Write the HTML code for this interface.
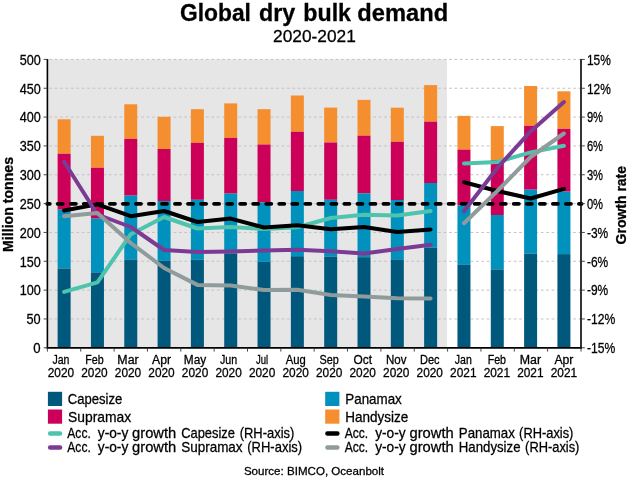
<!DOCTYPE html>
<html><head><meta charset="utf-8"><title>Global dry bulk demand</title>
<style>html,body{margin:0;padding:0;background:#fff}body{width:630px;height:478px;overflow:hidden}svg{display:block;will-change:transform}text{font-family:"Liberation Sans",sans-serif;fill:#000;stroke:#000;stroke-width:0.28px}</style></head><body>
<svg width="630" height="478" viewBox="0 0 630 478">
<rect width="630" height="478" fill="#fff"/>
<rect x="47.4" y="59.4" width="399.50" height="288.40" fill="#e6e6e6"/>
<line x1="49.4" x2="581.0" y1="59.40" y2="59.40" stroke="#c2c2c2" stroke-width="1" stroke-dasharray="2.7 2.7"/>
<line x1="49.4" x2="581.0" y1="88.24" y2="88.24" stroke="#c2c2c2" stroke-width="1" stroke-dasharray="2.7 2.7"/>
<line x1="49.4" x2="581.0" y1="117.08" y2="117.08" stroke="#c2c2c2" stroke-width="1" stroke-dasharray="2.7 2.7"/>
<line x1="49.4" x2="581.0" y1="145.92" y2="145.92" stroke="#c2c2c2" stroke-width="1" stroke-dasharray="2.7 2.7"/>
<line x1="49.4" x2="581.0" y1="174.76" y2="174.76" stroke="#c2c2c2" stroke-width="1" stroke-dasharray="2.7 2.7"/>
<line x1="49.4" x2="581.0" y1="203.60" y2="203.60" stroke="#c2c2c2" stroke-width="1" stroke-dasharray="2.7 2.7"/>
<line x1="49.4" x2="581.0" y1="232.44" y2="232.44" stroke="#c2c2c2" stroke-width="1" stroke-dasharray="2.7 2.7"/>
<line x1="49.4" x2="581.0" y1="261.28" y2="261.28" stroke="#c2c2c2" stroke-width="1" stroke-dasharray="2.7 2.7"/>
<line x1="49.4" x2="581.0" y1="290.12" y2="290.12" stroke="#c2c2c2" stroke-width="1" stroke-dasharray="2.7 2.7"/>
<line x1="49.4" x2="581.0" y1="318.96" y2="318.96" stroke="#c2c2c2" stroke-width="1" stroke-dasharray="2.7 2.7"/>
<rect x="57.62" y="119.3" width="13.0" height="34.50" fill="#f58e2e"/>
<rect x="57.62" y="153.8" width="13.0" height="55.90" fill="#cc0058"/>
<rect x="57.62" y="209.7" width="13.0" height="58.90" fill="#0091bd"/>
<rect x="57.62" y="268.6" width="13.0" height="79.20" fill="#00587c"/>
<rect x="90.94" y="135.8" width="13.0" height="32.00" fill="#f58e2e"/>
<rect x="90.94" y="167.8" width="13.0" height="50.80" fill="#cc0058"/>
<rect x="90.94" y="218.6" width="13.0" height="53.80" fill="#0091bd"/>
<rect x="90.94" y="272.4" width="13.0" height="75.40" fill="#00587c"/>
<rect x="124.26" y="104.3" width="13.0" height="34.60" fill="#f58e2e"/>
<rect x="124.26" y="138.9" width="13.0" height="56.70" fill="#cc0058"/>
<rect x="124.26" y="195.6" width="13.0" height="63.90" fill="#0091bd"/>
<rect x="124.26" y="259.5" width="13.0" height="88.30" fill="#00587c"/>
<rect x="157.58" y="116.8" width="13.0" height="32.20" fill="#f58e2e"/>
<rect x="157.58" y="149.0" width="13.0" height="52.00" fill="#cc0058"/>
<rect x="157.58" y="201.0" width="13.0" height="59.80" fill="#0091bd"/>
<rect x="157.58" y="260.8" width="13.0" height="87.00" fill="#00587c"/>
<rect x="190.90" y="109.2" width="13.0" height="33.60" fill="#f58e2e"/>
<rect x="190.90" y="142.8" width="13.0" height="57.00" fill="#cc0058"/>
<rect x="190.90" y="199.8" width="13.0" height="59.90" fill="#0091bd"/>
<rect x="190.90" y="259.7" width="13.0" height="88.10" fill="#00587c"/>
<rect x="224.22" y="103.4" width="13.0" height="34.50" fill="#f58e2e"/>
<rect x="224.22" y="137.9" width="13.0" height="55.70" fill="#cc0058"/>
<rect x="224.22" y="193.6" width="13.0" height="60.00" fill="#0091bd"/>
<rect x="224.22" y="253.6" width="13.0" height="94.20" fill="#00587c"/>
<rect x="257.54" y="109.2" width="13.0" height="35.30" fill="#f58e2e"/>
<rect x="257.54" y="144.5" width="13.0" height="57.80" fill="#cc0058"/>
<rect x="257.54" y="202.3" width="13.0" height="59.50" fill="#0091bd"/>
<rect x="257.54" y="261.8" width="13.0" height="86.00" fill="#00587c"/>
<rect x="290.86" y="95.5" width="13.0" height="36.30" fill="#f58e2e"/>
<rect x="290.86" y="131.8" width="13.0" height="59.20" fill="#cc0058"/>
<rect x="290.86" y="191.0" width="13.0" height="65.20" fill="#0091bd"/>
<rect x="290.86" y="256.2" width="13.0" height="91.60" fill="#00587c"/>
<rect x="324.18" y="107.6" width="13.0" height="34.90" fill="#f58e2e"/>
<rect x="324.18" y="142.5" width="13.0" height="57.30" fill="#cc0058"/>
<rect x="324.18" y="199.8" width="13.0" height="56.90" fill="#0091bd"/>
<rect x="324.18" y="256.7" width="13.0" height="91.10" fill="#00587c"/>
<rect x="357.50" y="99.9" width="13.0" height="35.80" fill="#f58e2e"/>
<rect x="357.50" y="135.7" width="13.0" height="57.70" fill="#cc0058"/>
<rect x="357.50" y="193.4" width="13.0" height="63.80" fill="#0091bd"/>
<rect x="357.50" y="257.2" width="13.0" height="90.60" fill="#00587c"/>
<rect x="390.82" y="107.7" width="13.0" height="34.10" fill="#f58e2e"/>
<rect x="390.82" y="141.8" width="13.0" height="58.20" fill="#cc0058"/>
<rect x="390.82" y="200.0" width="13.0" height="59.40" fill="#0091bd"/>
<rect x="390.82" y="259.4" width="13.0" height="88.40" fill="#00587c"/>
<rect x="424.14" y="85.1" width="13.0" height="36.60" fill="#f58e2e"/>
<rect x="424.14" y="121.7" width="13.0" height="61.30" fill="#cc0058"/>
<rect x="424.14" y="183.0" width="13.0" height="64.70" fill="#0091bd"/>
<rect x="424.14" y="247.7" width="13.0" height="100.10" fill="#00587c"/>
<rect x="457.46" y="115.9" width="13.0" height="33.70" fill="#f58e2e"/>
<rect x="457.46" y="149.6" width="13.0" height="55.80" fill="#cc0058"/>
<rect x="457.46" y="205.4" width="13.0" height="59.50" fill="#0091bd"/>
<rect x="457.46" y="264.9" width="13.0" height="82.90" fill="#00587c"/>
<rect x="490.78" y="126.1" width="13.0" height="33.90" fill="#f58e2e"/>
<rect x="490.78" y="160.0" width="13.0" height="55.00" fill="#cc0058"/>
<rect x="490.78" y="215.0" width="13.0" height="54.40" fill="#0091bd"/>
<rect x="490.78" y="269.4" width="13.0" height="78.40" fill="#00587c"/>
<rect x="524.10" y="86.0" width="13.0" height="39.80" fill="#f58e2e"/>
<rect x="524.10" y="125.8" width="13.0" height="63.90" fill="#cc0058"/>
<rect x="524.10" y="189.7" width="13.0" height="63.90" fill="#0091bd"/>
<rect x="524.10" y="253.6" width="13.0" height="94.20" fill="#00587c"/>
<rect x="557.42" y="91.3" width="13.0" height="37.60" fill="#f58e2e"/>
<rect x="557.42" y="128.9" width="13.0" height="62.80" fill="#cc0058"/>
<rect x="557.42" y="191.7" width="13.0" height="62.40" fill="#0091bd"/>
<rect x="557.42" y="254.1" width="13.0" height="93.70" fill="#00587c"/>
<line x1="47.2" x2="581.6" y1="203.8" y2="203.8" stroke="#000" stroke-width="3.8" stroke-linecap="round" stroke-dasharray="5.1 7.93" stroke-dashoffset="2.52"/>
<polyline points="64.1,291.9 97.4,282.3 130.8,234.2 164.1,217.0 197.4,228.5 230.7,227.1 264.0,229.0 297.4,227.3 330.7,218 364.0,214.8 397.3,215.5 430.6,211" fill="none" stroke="#4ec3ad" stroke-width="4.0" stroke-linecap="round" stroke-linejoin="round"/>
<polyline points="464.0,163.4 497.3,162 530.6,152.4 563.9,145.8" fill="none" stroke="#4ec3ad" stroke-width="4.0" stroke-linecap="round" stroke-linejoin="round"/>
<polyline points="64.1,210.5 97.4,204.4 130.8,216.2 164.1,211 197.4,222 230.7,218.6 264.0,227.5 297.4,225.2 330.7,229.2 364.0,227 397.3,232 430.6,229.5" fill="none" stroke="#000000" stroke-width="4.0" stroke-linecap="round" stroke-linejoin="round"/>
<polyline points="464.0,182.2 497.3,191 530.6,198.5 563.9,188.9" fill="none" stroke="#000000" stroke-width="4.0" stroke-linecap="round" stroke-linejoin="round"/>
<polyline points="64.1,161.8 97.4,214.5 130.8,227 164.1,250 197.4,251.9 230.7,251.4 264.0,250.6 297.4,249.8 330.7,251.3 364.0,253.6 397.3,249 430.6,244.7" fill="none" stroke="#7b3b94" stroke-width="4.0" stroke-linecap="round" stroke-linejoin="round"/>
<polyline points="464.0,211.2 497.3,168 530.6,131.4 563.9,102.0" fill="none" stroke="#7b3b94" stroke-width="4.0" stroke-linecap="round" stroke-linejoin="round"/>
<polyline points="64.1,216.2 97.4,213 130.8,243 164.1,268 197.4,284.9 230.7,285.4 264.0,290 297.4,289.7 330.7,295 364.0,296.6 397.3,298.2 430.6,298.4" fill="none" stroke="#8f9c9b" stroke-width="4.0" stroke-linecap="round" stroke-linejoin="round"/>
<polyline points="464.0,223.2 497.3,191 530.6,157 563.9,133.5" fill="none" stroke="#8f9c9b" stroke-width="4.0" stroke-linecap="round" stroke-linejoin="round"/>
<line x1="47.4" x2="47.4" y1="58.9" y2="348.6" stroke="#000" stroke-width="1.6"/>
<line x1="581.0" x2="581.0" y1="58.9" y2="348.6" stroke="#000" stroke-width="1.6"/>
<line x1="46.6" x2="581.8" y1="347.8" y2="347.8" stroke="#000" stroke-width="1.8"/>
<line x1="43.6" x2="47.4" y1="59.40" y2="59.40" stroke="#333" stroke-width="0.9"/>
<line x1="581.0" x2="584.8" y1="59.40" y2="59.40" stroke="#333" stroke-width="0.9"/>
<line x1="43.6" x2="47.4" y1="88.24" y2="88.24" stroke="#333" stroke-width="0.9"/>
<line x1="581.0" x2="584.8" y1="88.24" y2="88.24" stroke="#333" stroke-width="0.9"/>
<line x1="43.6" x2="47.4" y1="117.08" y2="117.08" stroke="#333" stroke-width="0.9"/>
<line x1="581.0" x2="584.8" y1="117.08" y2="117.08" stroke="#333" stroke-width="0.9"/>
<line x1="43.6" x2="47.4" y1="145.92" y2="145.92" stroke="#333" stroke-width="0.9"/>
<line x1="581.0" x2="584.8" y1="145.92" y2="145.92" stroke="#333" stroke-width="0.9"/>
<line x1="43.6" x2="47.4" y1="174.76" y2="174.76" stroke="#333" stroke-width="0.9"/>
<line x1="581.0" x2="584.8" y1="174.76" y2="174.76" stroke="#333" stroke-width="0.9"/>
<line x1="43.6" x2="47.4" y1="203.60" y2="203.60" stroke="#333" stroke-width="0.9"/>
<line x1="581.0" x2="584.8" y1="203.60" y2="203.60" stroke="#333" stroke-width="0.9"/>
<line x1="43.6" x2="47.4" y1="232.44" y2="232.44" stroke="#333" stroke-width="0.9"/>
<line x1="581.0" x2="584.8" y1="232.44" y2="232.44" stroke="#333" stroke-width="0.9"/>
<line x1="43.6" x2="47.4" y1="261.28" y2="261.28" stroke="#333" stroke-width="0.9"/>
<line x1="581.0" x2="584.8" y1="261.28" y2="261.28" stroke="#333" stroke-width="0.9"/>
<line x1="43.6" x2="47.4" y1="290.12" y2="290.12" stroke="#333" stroke-width="0.9"/>
<line x1="581.0" x2="584.8" y1="290.12" y2="290.12" stroke="#333" stroke-width="0.9"/>
<line x1="43.6" x2="47.4" y1="318.96" y2="318.96" stroke="#333" stroke-width="0.9"/>
<line x1="581.0" x2="584.8" y1="318.96" y2="318.96" stroke="#333" stroke-width="0.9"/>
<line x1="43.6" x2="47.4" y1="347.80" y2="347.80" stroke="#333" stroke-width="0.9"/>
<line x1="581.0" x2="584.8" y1="347.80" y2="347.80" stroke="#333" stroke-width="0.9"/>
<line x1="47.40" x2="47.40" y1="347.8" y2="351.6" stroke="#333" stroke-width="0.9"/>
<line x1="80.75" x2="80.75" y1="347.8" y2="351.6" stroke="#333" stroke-width="0.9"/>
<line x1="114.10" x2="114.10" y1="347.8" y2="351.6" stroke="#333" stroke-width="0.9"/>
<line x1="147.45" x2="147.45" y1="347.8" y2="351.6" stroke="#333" stroke-width="0.9"/>
<line x1="180.80" x2="180.80" y1="347.8" y2="351.6" stroke="#333" stroke-width="0.9"/>
<line x1="214.15" x2="214.15" y1="347.8" y2="351.6" stroke="#333" stroke-width="0.9"/>
<line x1="247.50" x2="247.50" y1="347.8" y2="351.6" stroke="#333" stroke-width="0.9"/>
<line x1="280.85" x2="280.85" y1="347.8" y2="351.6" stroke="#333" stroke-width="0.9"/>
<line x1="314.20" x2="314.20" y1="347.8" y2="351.6" stroke="#333" stroke-width="0.9"/>
<line x1="347.55" x2="347.55" y1="347.8" y2="351.6" stroke="#333" stroke-width="0.9"/>
<line x1="380.90" x2="380.90" y1="347.8" y2="351.6" stroke="#333" stroke-width="0.9"/>
<line x1="414.25" x2="414.25" y1="347.8" y2="351.6" stroke="#333" stroke-width="0.9"/>
<line x1="447.60" x2="447.60" y1="347.8" y2="351.6" stroke="#333" stroke-width="0.9"/>
<line x1="480.95" x2="480.95" y1="347.8" y2="351.6" stroke="#333" stroke-width="0.9"/>
<line x1="514.30" x2="514.30" y1="347.8" y2="351.6" stroke="#333" stroke-width="0.9"/>
<line x1="547.65" x2="547.65" y1="347.8" y2="351.6" stroke="#333" stroke-width="0.9"/>
<line x1="581.00" x2="581.00" y1="347.8" y2="351.6" stroke="#333" stroke-width="0.9"/>
<text x="19.65" y="64.70" font-size="14.5" textLength="21.05" lengthAdjust="spacingAndGlyphs">500</text>
<text x="19.65" y="93.54" font-size="14.5" textLength="21.05" lengthAdjust="spacingAndGlyphs">450</text>
<text x="19.65" y="122.38" font-size="14.5" textLength="21.05" lengthAdjust="spacingAndGlyphs">400</text>
<text x="19.65" y="151.22" font-size="14.5" textLength="21.05" lengthAdjust="spacingAndGlyphs">350</text>
<text x="19.65" y="180.06" font-size="14.5" textLength="21.05" lengthAdjust="spacingAndGlyphs">300</text>
<text x="19.65" y="208.90" font-size="14.5" textLength="21.05" lengthAdjust="spacingAndGlyphs">250</text>
<text x="19.65" y="237.74" font-size="14.5" textLength="21.05" lengthAdjust="spacingAndGlyphs">200</text>
<text x="19.65" y="266.58" font-size="14.5" textLength="21.05" lengthAdjust="spacingAndGlyphs">150</text>
<text x="19.65" y="295.42" font-size="14.5" textLength="21.05" lengthAdjust="spacingAndGlyphs">100</text>
<text x="26.50" y="324.26" font-size="14.5" textLength="14.20" lengthAdjust="spacingAndGlyphs">50</text>
<text x="33.35" y="353.10" font-size="14.5" textLength="7.35" lengthAdjust="spacingAndGlyphs">0</text>
<text x="586.9" y="64.70" font-size="14.5" textLength="23.90" lengthAdjust="spacingAndGlyphs">15%</text>
<text x="586.9" y="93.54" font-size="14.5" textLength="23.90" lengthAdjust="spacingAndGlyphs">12%</text>
<text x="586.9" y="122.38" font-size="14.5" textLength="16.20" lengthAdjust="spacingAndGlyphs">9%</text>
<text x="586.9" y="151.22" font-size="14.5" textLength="16.20" lengthAdjust="spacingAndGlyphs">6%</text>
<text x="586.9" y="180.06" font-size="14.5" textLength="16.20" lengthAdjust="spacingAndGlyphs">3%</text>
<text x="586.9" y="208.90" font-size="14.5" textLength="16.20" lengthAdjust="spacingAndGlyphs">0%</text>
<text x="586.9" y="237.74" font-size="14.5" textLength="21.30" lengthAdjust="spacingAndGlyphs">-3%</text>
<text x="586.9" y="266.58" font-size="14.5" textLength="21.30" lengthAdjust="spacingAndGlyphs">-6%</text>
<text x="586.9" y="295.42" font-size="14.5" textLength="21.30" lengthAdjust="spacingAndGlyphs">-9%</text>
<text x="586.9" y="324.26" font-size="14.5" textLength="28.30" lengthAdjust="spacingAndGlyphs">-12%</text>
<text x="586.9" y="353.10" font-size="14.5" textLength="28.30" lengthAdjust="spacingAndGlyphs">-15%</text>
<text x="52.45" y="364.3" font-size="12" textLength="17.00" lengthAdjust="spacingAndGlyphs">Jan</text>
<text x="47.75" y="376.9" font-size="12" textLength="26.40" lengthAdjust="spacingAndGlyphs">2020</text>
<text x="85.28" y="364.3" font-size="12" textLength="18.40" lengthAdjust="spacingAndGlyphs">Feb</text>
<text x="81.28" y="376.9" font-size="12" textLength="26.40" lengthAdjust="spacingAndGlyphs">2020</text>
<text x="117.36" y="364.3" font-size="12" textLength="21.30" lengthAdjust="spacingAndGlyphs">Mar</text>
<text x="114.81" y="376.9" font-size="12" textLength="26.40" lengthAdjust="spacingAndGlyphs">2020</text>
<text x="152.04" y="364.3" font-size="12" textLength="19.00" lengthAdjust="spacingAndGlyphs">Apr</text>
<text x="148.34" y="376.9" font-size="12" textLength="26.40" lengthAdjust="spacingAndGlyphs">2020</text>
<text x="183.87" y="364.3" font-size="12" textLength="22.40" lengthAdjust="spacingAndGlyphs">May</text>
<text x="181.87" y="376.9" font-size="12" textLength="26.40" lengthAdjust="spacingAndGlyphs">2020</text>
<text x="220.00" y="364.3" font-size="12" textLength="17.20" lengthAdjust="spacingAndGlyphs">Jun</text>
<text x="215.40" y="376.9" font-size="12" textLength="26.40" lengthAdjust="spacingAndGlyphs">2020</text>
<text x="256.03" y="364.3" font-size="12" textLength="12.20" lengthAdjust="spacingAndGlyphs">Jul</text>
<text x="248.93" y="376.9" font-size="12" textLength="26.40" lengthAdjust="spacingAndGlyphs">2020</text>
<text x="285.66" y="364.3" font-size="12" textLength="20.00" lengthAdjust="spacingAndGlyphs">Aug</text>
<text x="282.46" y="376.9" font-size="12" textLength="26.40" lengthAdjust="spacingAndGlyphs">2020</text>
<text x="319.54" y="364.3" font-size="12" textLength="19.30" lengthAdjust="spacingAndGlyphs">Sep</text>
<text x="315.99" y="376.9" font-size="12" textLength="26.40" lengthAdjust="spacingAndGlyphs">2020</text>
<text x="353.47" y="364.3" font-size="12" textLength="18.50" lengthAdjust="spacingAndGlyphs">Oct</text>
<text x="349.52" y="376.9" font-size="12" textLength="26.40" lengthAdjust="spacingAndGlyphs">2020</text>
<text x="386.00" y="364.3" font-size="12" textLength="20.50" lengthAdjust="spacingAndGlyphs">Nov</text>
<text x="383.05" y="376.9" font-size="12" textLength="26.40" lengthAdjust="spacingAndGlyphs">2020</text>
<text x="419.98" y="364.3" font-size="12" textLength="19.60" lengthAdjust="spacingAndGlyphs">Dec</text>
<text x="416.58" y="376.9" font-size="12" textLength="26.40" lengthAdjust="spacingAndGlyphs">2020</text>
<text x="454.81" y="364.3" font-size="12" textLength="17.00" lengthAdjust="spacingAndGlyphs">Jan</text>
<text x="450.11" y="376.9" font-size="12" textLength="26.40" lengthAdjust="spacingAndGlyphs">2021</text>
<text x="487.64" y="364.3" font-size="12" textLength="18.40" lengthAdjust="spacingAndGlyphs">Feb</text>
<text x="483.64" y="376.9" font-size="12" textLength="26.40" lengthAdjust="spacingAndGlyphs">2021</text>
<text x="519.72" y="364.3" font-size="12" textLength="21.30" lengthAdjust="spacingAndGlyphs">Mar</text>
<text x="517.17" y="376.9" font-size="12" textLength="26.40" lengthAdjust="spacingAndGlyphs">2021</text>
<text x="554.40" y="364.3" font-size="12" textLength="19.00" lengthAdjust="spacingAndGlyphs">Apr</text>
<text x="550.70" y="376.9" font-size="12" textLength="26.40" lengthAdjust="spacingAndGlyphs">2021</text>
<text transform="translate(12.5,204.4) rotate(-90)" font-size="14.2" font-weight="bold" stroke="none" text-anchor="middle" textLength="95.0" lengthAdjust="spacingAndGlyphs">Million tonnes</text>
<text transform="translate(625.9,205.2) rotate(-90)" font-size="14.4" font-weight="bold" stroke="none" text-anchor="middle" textLength="78.4" lengthAdjust="spacingAndGlyphs">Growth rate</text>
<text x="180.00" y="20.5" font-size="23" font-weight="bold" stroke="none" textLength="70.90" lengthAdjust="spacingAndGlyphs">Global</text>
<text x="259.00" y="20.5" font-size="23" font-weight="bold" stroke="none" textLength="36.20" lengthAdjust="spacingAndGlyphs">dry</text>
<text x="303.30" y="20.5" font-size="23" font-weight="bold" stroke="none" textLength="47.70" lengthAdjust="spacingAndGlyphs">bulk</text>
<text x="357.30" y="20.5" font-size="23" font-weight="bold" stroke="none" textLength="90.80" lengthAdjust="spacingAndGlyphs">demand</text>
<text x="273.00" y="42.3" font-size="17.2" font-weight="normal" textLength="82.80" lengthAdjust="spacingAndGlyphs">2020-2021</text>
<rect x="47.9" y="391.8" width="14.2" height="14.2" fill="#00587c"/>
<rect x="47.9" y="409.5" width="14.2" height="14.2" fill="#cc0058"/>
<rect x="325.2" y="391.8" width="14.2" height="14.2" fill="#0091bd"/>
<rect x="325.2" y="409.5" width="14.2" height="14.2" fill="#f58e2e"/>
<line x1="50.1" x2="60.099999999999994" y1="433.5" y2="433.5" stroke="#4ec3ad" stroke-width="4.4" stroke-linecap="round"/>
<line x1="50.1" x2="60.099999999999994" y1="447.5" y2="447.5" stroke="#7b3b94" stroke-width="4.4" stroke-linecap="round"/>
<line x1="327.4" x2="337.4" y1="433.5" y2="433.5" stroke="#000000" stroke-width="4.4" stroke-linecap="round"/>
<line x1="327.4" x2="337.4" y1="447.5" y2="447.5" stroke="#8f9c9b" stroke-width="4.4" stroke-linecap="round"/>
<text x="67.80" y="403.8" font-size="15.0" font-weight="normal" textLength="54.50" lengthAdjust="spacingAndGlyphs">Capesize</text>
<text x="68.10" y="421.5" font-size="15.0" font-weight="normal" textLength="63.10" lengthAdjust="spacingAndGlyphs">Supramax</text>
<text x="345.30" y="403.8" font-size="15.0" font-weight="normal" textLength="56.50" lengthAdjust="spacingAndGlyphs">Panamax</text>
<text x="345.30" y="421.5" font-size="15.0" font-weight="normal" textLength="63.10" lengthAdjust="spacingAndGlyphs">Handysize</text>
<text x="67.30" y="437.6" font-size="15.0" font-weight="normal" textLength="23.50" lengthAdjust="spacingAndGlyphs">Acc.</text>
<text x="97.80" y="437.6" font-size="15.0" font-weight="normal" textLength="30.50" lengthAdjust="spacingAndGlyphs">y-o-y</text>
<text x="132.10" y="437.6" font-size="15.0" font-weight="normal" textLength="44.20" lengthAdjust="spacingAndGlyphs">growth</text>
<text x="67.30" y="451.7" font-size="15.0" font-weight="normal" textLength="23.50" lengthAdjust="spacingAndGlyphs">Acc.</text>
<text x="97.80" y="451.7" font-size="15.0" font-weight="normal" textLength="30.50" lengthAdjust="spacingAndGlyphs">y-o-y</text>
<text x="132.10" y="451.7" font-size="15.0" font-weight="normal" textLength="44.20" lengthAdjust="spacingAndGlyphs">growth</text>
<text x="344.70" y="437.6" font-size="15.0" font-weight="normal" textLength="23.50" lengthAdjust="spacingAndGlyphs">Acc.</text>
<text x="375.20" y="437.6" font-size="15.0" font-weight="normal" textLength="30.50" lengthAdjust="spacingAndGlyphs">y-o-y</text>
<text x="409.50" y="437.6" font-size="15.0" font-weight="normal" textLength="44.20" lengthAdjust="spacingAndGlyphs">growth</text>
<text x="344.70" y="451.7" font-size="15.0" font-weight="normal" textLength="23.50" lengthAdjust="spacingAndGlyphs">Acc.</text>
<text x="375.20" y="451.7" font-size="15.0" font-weight="normal" textLength="30.50" lengthAdjust="spacingAndGlyphs">y-o-y</text>
<text x="409.50" y="451.7" font-size="15.0" font-weight="normal" textLength="44.20" lengthAdjust="spacingAndGlyphs">growth</text>
<text x="181.20" y="437.6" font-size="15.0" font-weight="normal" textLength="53.80" lengthAdjust="spacingAndGlyphs">Capesize</text>
<text x="239.70" y="437.6" font-size="15.0" font-weight="normal" textLength="54.60" lengthAdjust="spacingAndGlyphs">(RH-axis)</text>
<text x="181.20" y="451.7" font-size="15.0" font-weight="normal" textLength="61.40" lengthAdjust="spacingAndGlyphs">Supramax</text>
<text x="247.30" y="451.7" font-size="15.0" font-weight="normal" textLength="54.80" lengthAdjust="spacingAndGlyphs">(RH-axis)</text>
<text x="458.80" y="437.6" font-size="15.0" font-weight="normal" textLength="56.10" lengthAdjust="spacingAndGlyphs">Panamax</text>
<text x="519.10" y="437.6" font-size="15.0" font-weight="normal" textLength="54.30" lengthAdjust="spacingAndGlyphs">(RH-axis)</text>
<text x="458.80" y="451.7" font-size="15.0" font-weight="normal" textLength="61.70" lengthAdjust="spacingAndGlyphs">Handysize</text>
<text x="525.10" y="451.7" font-size="15.0" font-weight="normal" textLength="54.30" lengthAdjust="spacingAndGlyphs">(RH-axis)</text>
<text x="243.9" y="474.7" font-size="11.4" stroke="#000" stroke-width="0.45" textLength="140.2" lengthAdjust="spacingAndGlyphs">Source: BIMCO, Oceanbolt</text>
</svg></body></html>
